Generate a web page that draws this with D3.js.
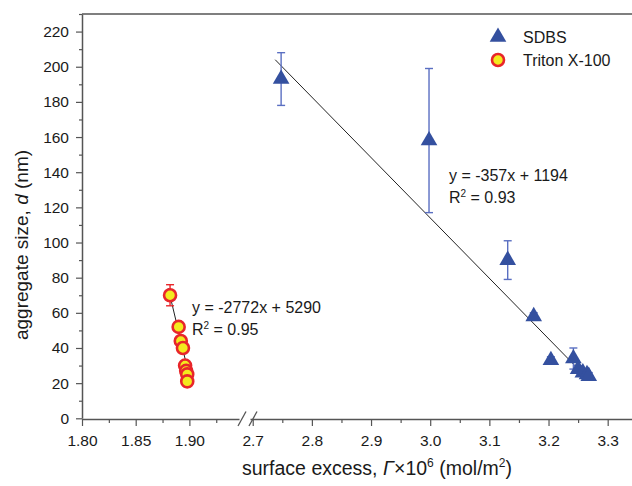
<!DOCTYPE html>
<html><head><meta charset="utf-8">
<script src="https://cdn.jsdelivr.net/npm/d3@7"></script>
<style>
body{margin:0;background:#fff}
svg{display:block}
text{font-family:"Liberation Sans",Arial,sans-serif;fill:#1a1a1a}
</style>
</head><body><svg id="c" width="632" height="486"></svg>
<script>
// ---- data ----
const sdbsX   = [2.748, 2.998, 3.131, 3.175, 3.204, 3.242, 3.250, 3.258, 3.265, 3.268];
const sdbsY   = [193, 158, 90, 58, 33, 34, 28, 26, 25, 24];
const sdbsErr = [15, 41, 11, 2, 2, 6, 2, 2, 2, 2];
const tritonX   = [1.882, 1.890, 1.892, 1.894, 1.896, 1.897, 1.898, 1.898];
const tritonY   = [70, 52, 44, 40, 30, 27, 25, 21];
const tritonErr = [6, 2, 2, 2, 2, 2, 2, 3];
const sdbsFitX = [2.738, 3.262];
const sdbsFitY = [204, 24];
const tritonFitX = [1.8803, 1.9011];
const tritonFitY = [74, 20.8];
const yTicks = [0, 20, 40, 60, 80, 100, 120, 140, 160, 180, 200, 220];
const yMinor = [10, 30, 50, 70, 90, 110, 130, 150, 170, 190, 210, 230];
const xTicksLeft = [1.80, 1.85, 1.90];
const xMinorLeft = [1.825, 1.875, 1.925];
const xTicksRight = [2.7, 2.8, 2.9, 3.0, 3.1, 3.2, 3.3];
const xMinorRight = [2.75, 2.85, 2.95, 3.05, 3.15, 3.25];
const seriesNames = ["SDBS", "Triton X-100"];
const sdbsEq = ["y = -357x + 1194", "0.93"];
const tritonEq = ["y = -2772x + 5290", "0.95"];

// ---- scales ----
const svg = d3.select("#c");
const y = d3.scaleLinear().domain([0, 230]).range([418.3, 14]);
const xL = d3.scaleLinear().domain([1.80, 1.9462]).range([82, 239]);
const xR = d3.scaleLinear().domain([2.6954, 3.3411]).range([250, 632]);
const axisCol = "#555";
const blue = "#34509f", blueErr = "#5a6fc2";
const red = "#e8262a", yellow = "#f3ea1e";

// ---- axes ----
function styleAxis(g){
  g.selectAll("path.domain").attr("stroke", axisCol).attr("stroke-width", 1.5);
  g.selectAll(".tick line").attr("stroke", axisCol).attr("stroke-width", 1.2);
  g.selectAll(".tick text").style("font-size", "15.5px").attr("fill", "#1a1a1a")
    .style("font-family", '"Liberation Sans",Arial,sans-serif');
}
const yAx = svg.append("g").attr("transform", "translate(82,0)")
  .call(d3.axisLeft(y).tickValues(yTicks).tickSize(6).tickSizeOuter(0).tickPadding(7).tickFormat(d3.format("d")));
styleAxis(yAx);
const yAxm = svg.append("g").attr("transform", "translate(82,0)")
  .call(d3.axisLeft(y).tickValues(yMinor).tickSize(3).tickFormat(""));
yAxm.select("path.domain").remove(); styleAxis(yAxm);

const xAxL = svg.append("g").attr("transform", "translate(0,419)")
  .call(d3.axisBottom(xL).tickValues(xTicksLeft).tickSize(7).tickSizeOuter(0).tickPadding(9).tickFormat(d3.format(".2f")));
styleAxis(xAxL);
const xAxLm = svg.append("g").attr("transform", "translate(0,419)")
  .call(d3.axisBottom(xL).tickValues(xMinorLeft).tickSize(4).tickFormat(""));
xAxLm.select("path.domain").remove(); styleAxis(xAxLm);
const xAxR = svg.append("g").attr("transform", "translate(0,419)")
  .call(d3.axisBottom(xR).tickValues(xTicksRight).tickSize(7).tickSizeOuter(0).tickPadding(9).tickFormat(d3.format(".1f")));
styleAxis(xAxR);
const xAxRm = svg.append("g").attr("transform", "translate(0,419)")
  .call(d3.axisBottom(xR).tickValues(xMinorRight).tickSize(4).tickFormat(""));
xAxRm.select("path.domain").remove(); styleAxis(xAxRm);

// break marks
[239, 250].forEach(px => {
  svg.append("line").attr("x1", px - 1).attr("y1", 426).attr("x2", px + 7).attr("y2", 411.5)
    .attr("stroke", axisCol).attr("stroke-width", 1.3);
});
// top frame line
svg.append("line").attr("x1", 82).attr("x2", 632).attr("y1", y(230)).attr("y2", y(230))
  .attr("stroke", axisCol).attr("stroke-width", 1.5);

// ---- fit lines ----
svg.append("line").attr("x1", xR(sdbsFitX[0])).attr("y1", y(sdbsFitY[0]))
  .attr("x2", xR(sdbsFitX[1])).attr("y2", y(sdbsFitY[1])).attr("stroke", "#222").attr("stroke-width", 1);
svg.append("line").attr("x1", xL(tritonFitX[0])).attr("y1", y(tritonFitY[0]))
  .attr("x2", xL(tritonFitX[1])).attr("y2", y(tritonFitY[1])).attr("stroke", "#222").attr("stroke-width", 1);

// ---- error bars ----
function errBars(xs, ys, es, xs_scale, col){
  const g = svg.append("g").attr("stroke", col).attr("stroke-width", 1.4).attr("fill", "none");
  xs.forEach((xv, i) => {
    const px = xs_scale(xv), top = y(ys[i] + es[i]), bot = y(ys[i] - es[i]);
    g.append("line").attr("x1", px).attr("x2", px).attr("y1", top).attr("y2", bot);
    g.append("line").attr("x1", px - 4).attr("x2", px + 4).attr("y1", top).attr("y2", top);
    g.append("line").attr("x1", px - 4).attr("x2", px + 4).attr("y1", bot).attr("y2", bot);
  });
}
errBars(sdbsX, sdbsY, sdbsErr, xR, blueErr);
errBars(tritonX, tritonY, tritonErr, xL, red);

// ---- markers ----
const tri = d3.symbol().type(d3.symbolTriangle).size(120);
svg.append("g").selectAll("path").data(sdbsX).join("path")
  .attr("d", tri).attr("fill", blue)
  .attr("transform", (d, i) => `translate(${xR(d)},${y(sdbsY[i])})`);
svg.append("g").selectAll("circle").data(tritonX).join("circle")
  .attr("cx", d => xL(d)).attr("cy", (d, i) => y(tritonY[i])).attr("r", 6)
  .attr("fill", yellow).attr("stroke", red).attr("stroke-width", 2.6);

// ---- equations ----
function eq(x0, yb, lines){
  svg.append("text").attr("x", x0).attr("y", yb).style("font-size", "16px").text(lines[0]);
  const t = svg.append("text").attr("x", x0).attr("y", yb + 22).style("font-size", "16px");
  t.append("tspan").text("R");
  t.append("tspan").attr("dy", -6).style("font-size", "10px").text("2");
  t.append("tspan").attr("dy", 6).text(" = " + lines[1]);
}
eq(449, 181, sdbsEq);
eq(192, 313, tritonEq);

// ---- legend ----
svg.append("path").attr("d", tri).attr("fill", blue).attr("transform", "translate(498,37)");
svg.append("circle").attr("cx", 498).attr("cy", 60).attr("r", 6)
  .attr("fill", yellow).attr("stroke", red).attr("stroke-width", 2.6);
svg.append("text").attr("x", 523).attr("y", 43).style("font-size", "16px").text(seriesNames[0]);
svg.append("text").attr("x", 523).attr("y", 66).style("font-size", "16px").text(seriesNames[1]);

// ---- axis titles ----
const xt = svg.append("text").attr("x", 377).attr("y", 475).attr("text-anchor", "middle").style("font-size", "19.5px");
xt.append("tspan").text("surface excess, ");
xt.append("tspan").style("font-style", "italic").text("Γ");
xt.append("tspan").text("×10");
xt.append("tspan").attr("dy", -8).style("font-size", "12px").text("6");
xt.append("tspan").attr("dy", 8).text(" (mol/m");
xt.append("tspan").attr("dy", -8).style("font-size", "12px").text("2");
xt.append("tspan").attr("dy", 8).text(")");

const yt = svg.append("text").attr("transform", "translate(28,245) rotate(-90)")
  .attr("text-anchor", "middle").style("font-size", "19px");
yt.append("tspan").text("aggregate size, ");
yt.append("tspan").style("font-style", "italic").text("d");
yt.append("tspan").text(" (nm)");
</script>
</body></html>
